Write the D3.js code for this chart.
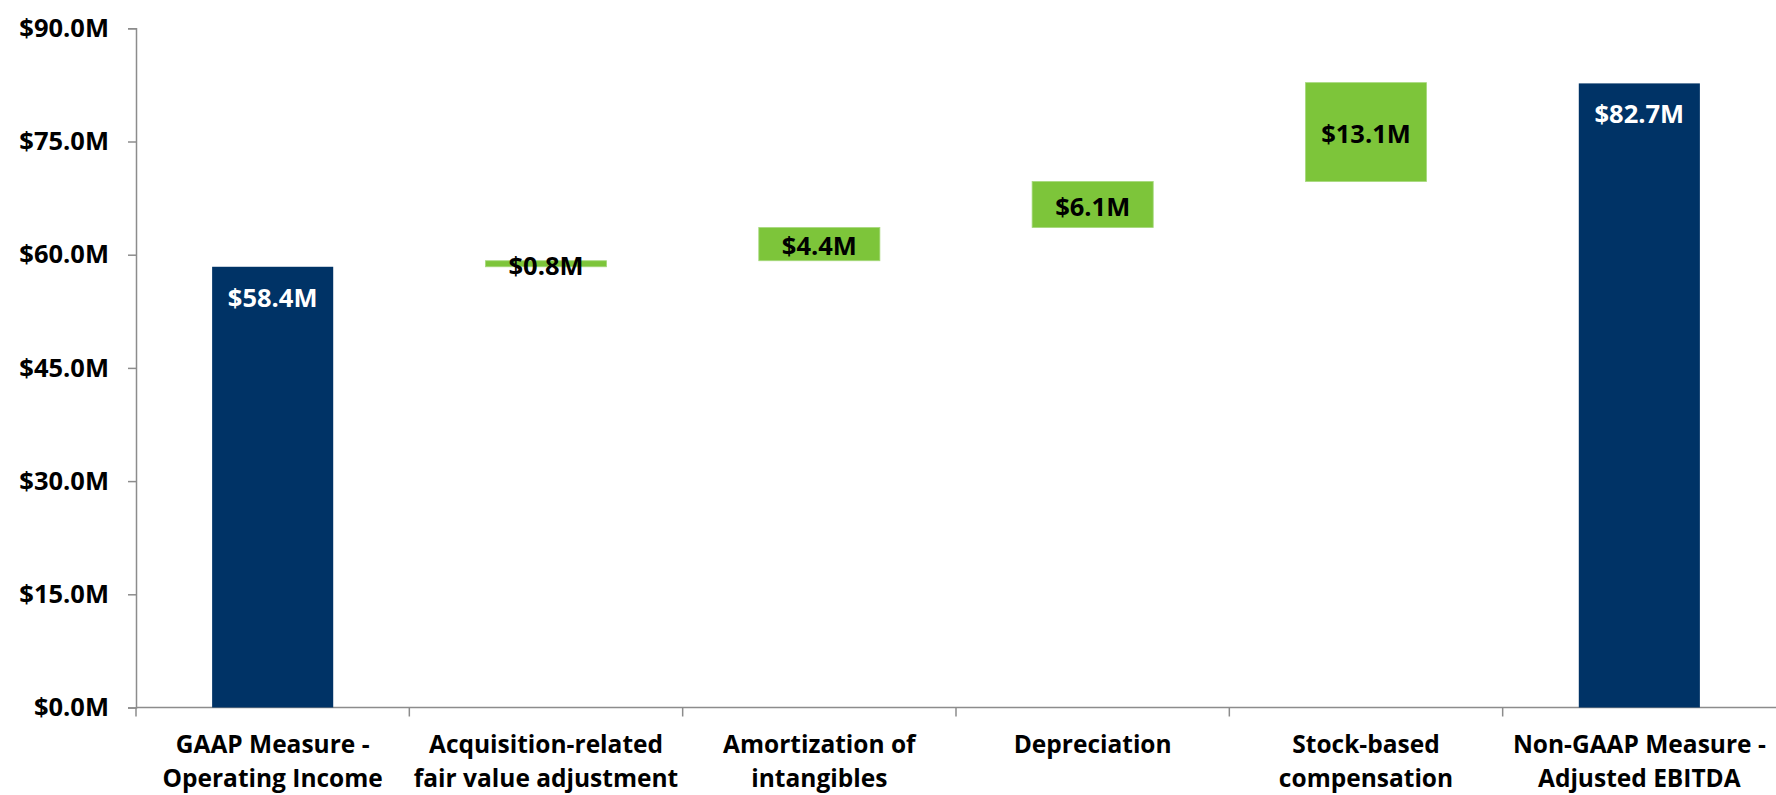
<!DOCTYPE html>
<html>
<head>
<meta charset="utf-8">
<script src="https://cdn.jsdelivr.net/npm/d3@7"></script>
<style>
  html, body { margin: 0; padding: 0; background: #fff; }
  svg text { font-family: "Open Sans", "Noto Sans", sans-serif; font-weight: bold; }
</style>
</head>
<body>
<div id="chart"></div>
<script>
// Waterfall: operating income -> adjusted EBITDA
const categories = [
    "GAAP Measure - Operating Income",
    "Acquisition-related fair value adjustment",
    "Amortization of intangibles",
    "Depreciation",
    "Stock-based compensation",
    "Non-GAAP Measure - Adjusted EBITDA"
];
const categoryLines = [
    ["GAAP Measure -", "Operating Income"],
    ["Acquisition-related", "fair value adjustment"],
    ["Amortization of", "intangibles"],
    ["Depreciation"],
    ["Stock-based", "compensation"],
    ["Non-GAAP Measure -", "Adjusted EBITDA"]
];
const values = [58.4, 0.8, 4.4, 6.1, 13.1, 82.7];   // $M
const kinds = ["total", "delta", "delta", "delta", "delta", "total"];
const yTicks = [0, 15, 30, 45, 60, 75, 90];

const width = 1776, height = 795;
const margin = { top: 28.3, right: 0, bottom: 87.5, left: 136 };

const navy = "#003366", green = "#7dc53a";

// running bases for the floating bars
let running = 0;
const bars = values.map((v, i) => {
    let y0, y1;
    if (kinds[i] === "total") { y0 = 0; y1 = v; running = v; }
    else { y0 = running; y1 = running + v; running = y1; }
    return { cat: categories[i], value: v, kind: kinds[i], y0, y1 };
});

const svg = d3.select("#chart").append("svg")
    .attr("width", width)
    .attr("height", height);

let x = d3.scaleBand()
    .domain(categories)
    .range([margin.left, width - margin.right])
    .padding(0);

let y = d3.scaleLinear()
    .domain([0, 90])
    .range([height - margin.bottom, margin.top]);

const barW = x.bandwidth() * 0.443;
const fmt = v => "$" + v.toFixed(1) + "M";

// y axis
const yAxis = svg.append("g")
    .attr("transform", `translate(${margin.left},0)`)
    .call(d3.axisLeft(y).tickValues(yTicks).tickFormat(fmt).tickSize(8).tickPadding(19));
yAxis.selectAll("path, line").attr("stroke", "#8c8c8c").attr("stroke-width", 1.5);
yAxis.selectAll("text")
    .attr("fill", "#000")
    .style("font-size", "25.5px");

// x axis line and boundary ticks (Excel puts ticks between categories)
const xAxis = svg.append("g");
xAxis.append("line")
    .attr("x1", margin.left).attr("x2", width)
    .attr("y1", y(0)).attr("y2", y(0))
    .attr("stroke", "#8c8c8c").attr("stroke-width", 1.5);
xAxis.selectAll(".bound")
    .data(categories)
    .enter().append("line")
    .attr("x1", d => x(d)).attr("x2", d => x(d))
    .attr("y1", y(0)).attr("y2", y(0) + 9)
    .attr("stroke", "#8c8c8c").attr("stroke-width", 1.5);

// category labels
const catLabel = svg.selectAll(".cat-label")
    .data(categories)
    .enter().append("text")
    .attr("class", "cat-label")
    .attr("text-anchor", "middle")
    .attr("fill", "#000")
    .style("font-size", "24.5px");
catLabel.each(function (d, i) {
    d3.select(this).selectAll("tspan")
        .data(categoryLines[i])
        .enter().append("tspan")
        .attr("x", x(d) + x.bandwidth() / 2)
        .attr("y", (t, j) => 753 + j * 34)
        .text(t => t);
});

// bars
svg.selectAll(".bar")
    .data(bars)
    .enter().append("rect")
    .attr("class", "bar")
    .attr("x", d => x(d.cat) + (x.bandwidth() - barW) / 2)
    .attr("width", barW)
    .attr("y", d => y(d.y1))
    .attr("height", d => y(d.y0) - y(d.y1))
    .attr("fill", d => d.kind === "total" ? navy : green)
    .attr("stroke", d => d.kind === "total" ? "none" : "#a6d87c")
    .attr("stroke-width", 0.8);

// value labels
svg.selectAll(".val")
    .data(bars)
    .enter().append("text")
    .attr("class", "val")
    .attr("text-anchor", "middle")
    .attr("dominant-baseline", "central")
    .attr("x", d => x(d.cat) + x.bandwidth() / 2)
    .attr("y", d => d.kind === "total" ? y(d.y1) + 30 : (y(d.y0) + y(d.y1)) / 2 + 1)
    .attr("fill", d => d.kind === "total" ? "#fff" : "#000")
    .style("font-size", "25.5px")
    .text(d => fmt(d.value));
</script>
</body>
</html>
